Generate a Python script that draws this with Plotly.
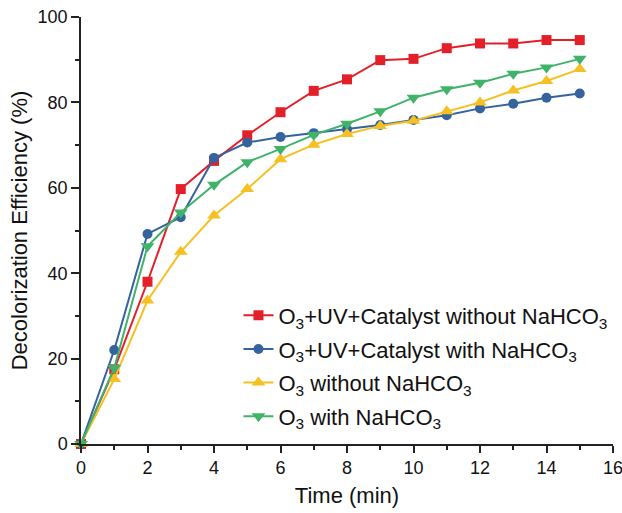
import plotly.graph_objects as go

time_min = [0, 1, 2, 3, 4, 5, 6, 7, 8, 9, 10, 11, 12, 13, 14, 15]

uv_cat_without = [0, 17.5, 38.0, 59.7, 66.3, 72.3, 77.7, 82.7, 85.4, 89.9, 90.2, 92.7, 93.8, 93.8, 94.6, 94.6]
uv_cat_with    = [0, 22.0, 49.2, 53.1, 67.0, 70.6, 71.9, 72.8, 73.7, 74.7, 75.9, 77.0, 78.6, 79.7, 81.1, 82.1]
o3_without     = [0, 15.2, 33.6, 45.0, 53.5, 59.7, 66.7, 70.1, 72.6, 74.5, 75.7, 77.9, 80.0, 82.8, 85.0, 87.8]
o3_with        = [0, 17.8, 46.3, 54.2, 60.7, 66.0, 69.1, 72.4, 75.0, 77.9, 81.1, 83.1, 84.6, 86.7, 88.2, 90.2]

names = [
    "O<sub>3</sub>+UV+Catalyst without NaHCO<sub>3</sub>",
    "O<sub>3</sub>+UV+Catalyst with NaHCO<sub>3</sub>",
    "O<sub>3</sub> without NaHCO<sub>3</sub>",
    "O<sub>3</sub> with NaHCO<sub>3</sub>",
]
series = [uv_cat_without, uv_cat_with, o3_without, o3_with]
colors = ["#E3202A", "#34639E", "#F6C022", "#40B36A"]
symbols = ["square", "circle", "triangle-up", "triangle-down"]
sizes = [10, 10, 12, 12]

fig = go.Figure()
for i, (name, vals, c, s, sz) in enumerate(zip(names, series, colors, symbols, sizes)):
    fig.add_trace(go.Scatter(
        x=time_min, y=vals, name=name, mode="lines+markers",
        legendgroup=f"g{i}",
        line=dict(color=c, width=2),
        marker=dict(symbol=s, size=sz, color=c),
        cliponaxis=False,
    ))

font_family = "Liberation Sans, Arial, sans-serif"
fig.update_layout(
    width=622, height=513,
    margin=dict(l=81, r=9, t=17, b=69, autoexpand=False),
    paper_bgcolor="white", plot_bgcolor="white",
    font=dict(family=font_family, color="#111111"),
    showlegend=True,
    legend=dict(
        x=0.296, y=0.35, xanchor="left", yanchor="top",
        font=dict(size=22, family=font_family, color="#111111"),
        bgcolor="rgba(0,0,0,0)", tracegroupgap=2,
    ),
    xaxis=dict(
        range=[0, 16], dtick=2, showgrid=False, zeroline=False, automargin=False,
        ticklabeloverflow="allow",
        showline=True, linecolor="#222222", linewidth=1.5,
        ticks="outside", ticklen=7, tickwidth=1.5, tickcolor="#222222",
        minor=dict(dtick=1, ticks="outside", ticklen=4, tickwidth=1.5, tickcolor="#222222"),
        tickfont=dict(size=18),
        title=dict(text="Time (min)", font=dict(size=22), standoff=10),
    ),
    yaxis=dict(
        range=[0, 100], dtick=20, showgrid=False, zeroline=False, automargin=False,
        ticklabeloverflow="allow",
        showline=True, linecolor="#222222", linewidth=1.5,
        ticks="outside", ticklen=8, tickwidth=1.5, tickcolor="#222222",
        minor=dict(dtick=10, ticks="outside", ticklen=4, tickwidth=1.5, tickcolor="#222222"),
        tickfont=dict(size=18),
        title=dict(text="Decolorization Efficiency (%)", font=dict(size=22), standoff=4),
    ),
)

fig.write_html(
    "out.html",
    config={"displayModeBar": False},
    post_script="document.body.style.margin='0';document.body.style.overflow='hidden';",
)
